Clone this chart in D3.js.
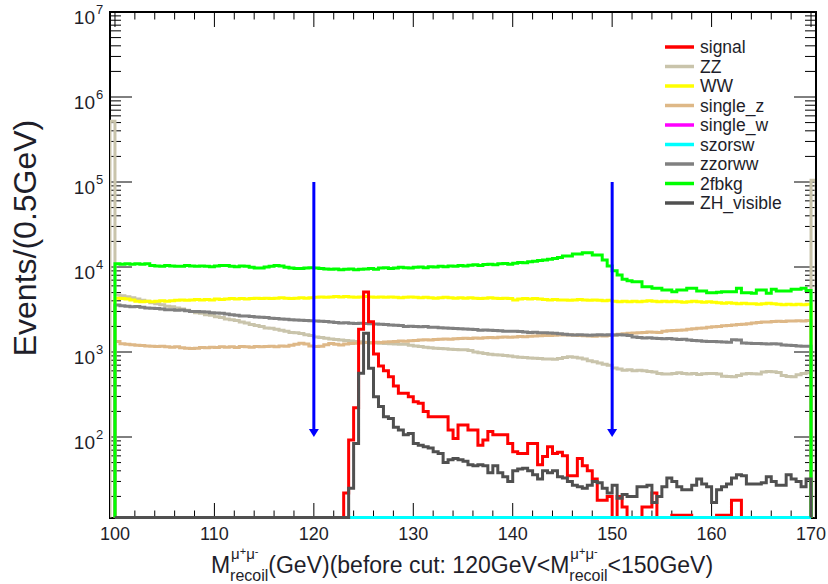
<!DOCTYPE html>
<html>
<head>
<meta charset="utf-8">
<script src="https://cdn.jsdelivr.net/npm/d3@7"></script>
<style>
  html, body { margin: 0; padding: 0; background: #fff; }
  svg { display: block; font-family: "Liberation Sans", Arial, Helvetica, sans-serif; }
</style>
</head>
<body>
<svg id="chart" width="828" height="584"></svg>
<script>
// ---- binning: 0.5 GeV bins from 100 to 170 GeV --------------------------
const binLow = 100, binHigh = 170, binWidth = 0.5;
const binEdges = d3.range(binLow, binHigh + binWidth / 2, binWidth);

// axis ticks
const xMajorTicks = [100, 110, 120, 130, 140, 150, 160, 170];
const yDecades = [1, 2, 3, 4, 5, 6, 7];

// cut window marked by the arrows
const cutLow = 120, cutHigh = 150;
const arrowTop = 1e5, arrowBottom = 1e2;

// ---- event counts per bin (140 bins each) --------------------------------
const signal = [
  0, 0, 0, 0, 0, 0, 0, 0, 0, 0,
  0, 0, 0, 0, 0, 0, 0, 0, 0, 0,
  0, 0, 0, 0, 0, 0, 0, 0, 0, 0,
  0, 0, 0, 0, 0, 0, 0, 0, 0, 0,
  0, 0, 0, 0, 0, 0, 22, 92, 221, 1850,
  5080, 2270, 946, 684, 600, 512, 398, 327, 327, 298,
  260, 249, 199, 173, 173, 173, 173, 121, 96, 138,
  138, 121, 121, 80, 92, 116, 106, 106, 106, 84,
  67, 64, 64, 84, 84, 47, 59, 77, 64, 66,
  60, 35, 35, 56, 46, 40, 32, 18, 18, 20,
  0, 20, 15, 0, 0, 0, 15, 15, 22, 0,
  0, 0, 12, 12, 12, 12, 0, 0, 0, 0,
  0, 12, 12, 12, 18, 18, 0, 0, 0, 0,
  0, 0, 0, 0, 0, 0, 0, 0, 0, 0
];

const zz = [
  4690, 4600, 4470, 4350, 4200, 4050, 3950, 3800, 3700, 3600,
  3450, 3400, 3300, 3200, 3100, 3000, 2900, 2850, 2750, 2700,
  2600, 2550, 2450, 2400, 2350, 2250, 2200, 2100, 2050, 2000,
  1920, 1900, 1850, 1800, 1750, 1700, 1680, 1650, 1600, 1560,
  1500, 1480, 1450, 1420, 1400, 1380, 1370, 1350, 1330, 1320,
  1300, 1290, 1280, 1270, 1260, 1250, 1240, 1230, 1230, 1200,
  1180, 1160, 1140, 1120, 1110, 1100, 1090, 1080, 1070, 1060,
  1060, 1040, 1000, 980, 960, 940, 930, 920, 910, 900,
  880, 870, 860, 850, 845, 840, 830, 830, 820, 840,
  860, 880, 870, 850, 830, 790, 770, 740, 720, 700,
  650, 630, 610, 620, 600, 610, 600, 590, 580, 560,
  550, 550, 560, 570, 560, 550, 560, 545, 555, 560,
  560, 550, 520, 515, 510, 530, 550, 560, 555, 550,
  580, 590, 585, 575, 530, 515, 510, 540, 560, 570
];
// ZZ also fills the half-bins just outside the 100-170 GeV window
const zzBelowWindow = 520000;  // 99.5-100 GeV
const zzAboveWindow = 105000;  // 170-170.5 GeV

const ww = [
  4300, 4250, 4200, 4100, 3950, 3900, 3950, 3900, 3950, 4000,
  3950, 4000, 4050, 4100, 4050, 4100, 4150, 4100, 4150, 4100,
  4200, 4150, 4200, 4250, 4200, 4250, 4200, 4250, 4300, 4250,
  4300, 4250, 4300, 4350, 4300, 4250, 4300, 4350, 4300, 4350,
  4400, 4450, 4400, 4450, 4500, 4450, 4500, 4450, 4400, 4450,
  4500, 4450, 4400, 4450, 4400, 4450, 4400, 4350, 4400, 4450,
  4400, 4350, 4400, 4350, 4300, 4350, 4400, 4350, 4300, 4350,
  4300, 4350, 4300, 4250, 4300, 4350, 4300, 4250, 4300, 4250,
  4100, 4200, 4250, 4200, 4250, 4200, 4150, 4100, 4150, 4100,
  4100, 4050, 4100, 4150, 4100, 4050, 4100, 4050, 4000, 4050,
  3950, 3900, 3950, 3900, 3950, 3900, 3950, 4000, 3950, 3900,
  3950, 3900, 3950, 3900, 3850, 3900, 3950, 3900, 3850, 3900,
  3850, 3800, 3750, 3800, 3750, 3700, 3750, 3700, 3700, 3650,
  3700, 3750, 3700, 3650, 3600, 3650, 3600, 3650, 3600, 3650
];

const singleZ = [
  1330, 1250, 1230, 1220, 1200, 1190, 1180, 1170, 1160, 1170,
  1150, 1140, 1150, 1120, 1110, 1100, 1110, 1130, 1120, 1140,
  1130, 1150, 1140, 1150, 1130, 1160, 1150, 1140, 1160, 1150,
  1160, 1170, 1150, 1180, 1170, 1200, 1230, 1270, 1240, 1180,
  1160, 1170, 1220, 1260, 1230, 1210, 1240, 1260, 1270, 1280,
  1290, 1280, 1300, 1290, 1310, 1320, 1330, 1350, 1340, 1360,
  1370, 1380, 1390, 1380, 1400, 1410, 1420, 1410, 1430, 1440,
  1450, 1440, 1460, 1450, 1470, 1480, 1470, 1490, 1500, 1490,
  1500, 1520, 1510, 1530, 1540, 1550, 1560, 1560, 1570, 1580,
  1590, 1580, 1570, 1560, 1550, 1540, 1530, 1550, 1540, 1560,
  1580, 1620, 1640, 1660, 1670, 1680, 1700, 1720, 1710, 1700,
  1750, 1780, 1790, 1800, 1820, 1850, 1880, 1900, 1920, 1950,
  1980, 2000, 2030, 2050, 2080, 2100, 2120, 2150, 2200, 2230,
  2250, 2260, 2280, 2300, 2290, 2310, 2320, 2330, 2320, 2340
];

const singleW = [
  0, 0, 0, 0, 0, 0, 0, 0, 0, 0,  0, 0, 0, 0, 0, 0, 0, 0, 0, 0,
  0, 0, 0, 0, 0, 0, 0, 0, 0, 0,  0, 0, 0, 0, 0, 0, 0, 0, 0, 0,
  0, 0, 0, 0, 0, 0, 0, 0, 0, 0,  0, 0, 0, 0, 0, 0, 0, 0, 0, 0,
  0, 0, 0, 0, 0, 0, 0, 0, 0, 0,  0, 0, 0, 0, 0, 0, 0, 0, 0, 0,
  0, 0, 0, 0, 0, 0, 0, 0, 0, 0,  0, 0, 0, 0, 0, 0, 0, 0, 0, 0,
  0, 0, 0, 0, 0, 0, 0, 0, 0, 0,  0, 0, 0, 0, 0, 0, 0, 0, 0, 0,
  0, 0, 0, 0, 0, 0, 0, 0, 0, 0,  0, 0, 0, 0, 0, 0, 0, 0, 0, 0
];

const szOrSw = [
  0, 0, 0, 0, 0, 0, 0, 0, 0, 0,  0, 0, 0, 0, 0, 0, 0, 0, 0, 0,
  0, 0, 0, 0, 0, 0, 0, 0, 0, 0,  0, 0, 0, 0, 0, 0, 0, 0, 0, 0,
  0, 0, 0, 0, 0, 0, 0, 0, 0, 0,  0, 0, 0, 0, 0, 0, 0, 0, 0, 0,
  0, 0, 0, 0, 0, 0, 0, 0, 0, 0,  0, 0, 0, 0, 0, 0, 0, 0, 0, 0,
  0, 0, 0, 0, 0, 0, 0, 0, 0, 0,  0, 0, 0, 0, 0, 0, 0, 0, 0, 0,
  0, 0, 0, 0, 0, 0, 0, 0, 0, 0,  0, 0, 0, 0, 0, 0, 0, 0, 0, 0,
  0, 0, 0, 0, 0, 0, 0, 0, 0, 0,  0, 0, 0, 0, 0, 0, 0, 0, 0, 0
];

const zzOrWw = [
  3570, 3500, 3450, 3400, 3420, 3350, 3300, 3280, 3250, 3200,
  3150, 3150, 3100, 3120, 3050, 3000, 3000, 2980, 2950, 2900,
  2880, 2850, 2800, 2750, 2700, 2660, 2650, 2620, 2580, 2560,
  2540, 2500, 2480, 2450, 2430, 2400, 2380, 2360, 2340, 2330,
  2320, 2300, 2280, 2250, 2220, 2200, 2210, 2180, 2170, 2180,
  2160, 2150, 2140, 2120, 2100, 2080, 2060, 2050, 2000, 2010,
  2000, 1980, 1990, 1960, 1950, 1930, 1920, 1900, 1890, 1880,
  1860, 1850, 1840, 1800, 1820, 1800, 1790, 1780, 1760, 1750,
  1760, 1740, 1720, 1700, 1710, 1690, 1680, 1670, 1660, 1640,
  1620, 1600, 1590, 1600, 1580, 1570, 1580, 1600, 1590, 1600,
  1590, 1600, 1580, 1560, 1500, 1480, 1460, 1470, 1450, 1440,
  1430, 1440, 1420, 1400, 1410, 1380, 1370, 1360, 1340, 1330,
  1330, 1320, 1310, 1300, 1390, 1380, 1280, 1270, 1260, 1260,
  1250, 1240, 1250, 1240, 1210, 1200, 1190, 1180, 1170, 1170
];

const twoFermion = [
  10900, 10800, 10900, 10800, 10900, 10800, 10900, 10400, 10300, 10200,
  10400, 10300, 10200, 10200, 10400, 10300, 10200, 10300, 10200, 10100,
  10300, 10400, 10400, 10200, 10100, 10300, 10200, 9900, 9700, 9700,
  10000, 10200, 10400, 10300, 9900, 9700, 9600, 9600, 9700, 9800,
  9700, 9600, 9500, 9400, 9500, 9300, 9400, 9500, 9300, 9400,
  9500, 9600, 9400, 9700, 9800, 9600, 9700, 9900, 9800, 9700,
  9900, 10000, 9800, 10100, 10000, 10200, 10100, 10300, 10200, 10400,
  10300, 10500, 10600, 10400, 10700, 10800, 10600, 10900, 11000, 10800,
  11100, 11300, 11200, 11500, 11700, 11900, 12100, 12300, 12600, 12900,
  13460, 13460, 14220, 14220, 14720, 14720, 13840, 13840, 12080, 10280,
  9040, 8050, 7160, 6900, 6710, 6710, 5860, 5860, 5610, 5610,
  5360, 5360, 5120, 5360, 5360, 5610, 5610, 5220, 5220, 4990,
  4990, 5050, 5120, 5120, 5120, 5610, 4990, 4990, 4910, 5360,
  5360, 4910, 5470, 5220, 5220, 5220, 5470, 5470, 5610, 5300
];

const zhVisible = [
  0, 0, 0, 0, 0, 0, 0, 0, 0, 0,
  0, 0, 0, 0, 0, 0, 0, 0, 0, 0,
  0, 0, 0, 0, 0, 0, 0, 0, 0, 0,
  0, 0, 0, 0, 0, 0, 0, 0, 0, 0,
  0, 0, 0, 0, 0, 0, 0, 25, 84, 561,
  1660, 643, 298, 228, 173, 165, 130, 121, 106, 110,
  84, 80, 77, 74, 67, 64, 50, 54, 56, 54,
  52, 47, 46, 47, 46, 38, 46, 38, 34, 30,
  40, 42, 43, 40, 36, 32, 40, 38, 40, 34,
  33, 30, 27, 26, 25, 27, 30, 29, 25, 22,
  27, 19, 21, 20, 20, 26, 26, 27, 17, 20,
  26, 33, 30, 26, 24, 24, 27, 32, 28, 26,
  17, 24, 26, 28, 33, 36, 35, 28, 28, 28,
  29, 34, 30, 27, 27, 36, 32, 30, 26, 32
];

// ---- series styling (legend order) ---------------------------------------
const seriesNames  = ["signal", "ZZ", "WW", "single_z", "single_w", "szorsw", "zzorww", "2fbkg", "ZH_visible"];
const seriesColors = ["#ff0000", "#c9c4ab", "#ffff00", "#deb887", "#ff00ff", "#00ffff", "#808080", "#00ff00", "#505050"];

// ---- geometry --------------------------------------------------------------
const frame = { left: 110, right: 816, top: 12, bottom: 518 };
const yMin = Math.pow(10, 7 - (frame.bottom - frame.top) / 85);
const zeroLevel = frame.bottom - 0.5;   // empty bins sit on the bottom edge

const x = d3.scaleLinear().domain([binLow - binWidth, binHigh + binWidth]).range([frame.left, frame.right]);
const y = d3.scaleLog().domain([yMin, 1e7]).range([frame.bottom, frame.top]);
const yPix = v => (v <= yMin ? zeroLevel : y(v));

const svg = d3.select("#chart");

svg.append("defs").append("clipPath").attr("id", "plotClip")
  .append("rect")
  .attr("x", frame.left).attr("y", frame.top - 2)
  .attr("width", frame.right - frame.left - 1)
  .attr("height", frame.bottom - frame.top + 4);

// ---- frame and ticks -------------------------------------------------------
const axes = svg.append("g").attr("stroke", "#000").attr("stroke-width", 1);

const xMinorTicks = d3.range(binLow, binHigh + 0.1, 2).filter(v => !xMajorTicks.includes(v));
const xTickLen = { major: 15, minor: 7.5 };
[[xMajorTicks, xTickLen.major], [xMinorTicks, xTickLen.minor]].forEach(([vals, len]) => {
  vals.forEach(v => {
    axes.append("line").attr("x1", x(v)).attr("x2", x(v)).attr("y1", frame.bottom).attr("y2", frame.bottom - len);
    axes.append("line").attr("x1", x(v)).attr("x2", x(v)).attr("y1", frame.top).attr("y2", frame.top + len);
  });
});

const yMajorTicks = yDecades.map(e => Math.pow(10, e)).filter(v => v >= yMin);
const yMinorTicks = [];
yDecades.slice(0, -1).forEach(e => {
  for (let k = 2; k <= 9; k++) {
    const v = k * Math.pow(10, e);
    if (v >= yMin && v <= 1e7) yMinorTicks.push(v);
  }
});
const yTickLen = { major: 22, minor: 11 };
[[yMajorTicks, yTickLen.major], [yMinorTicks, yTickLen.minor]].forEach(([vals, len]) => {
  vals.forEach(v => {
    axes.append("line").attr("x1", frame.left).attr("x2", frame.left + len).attr("y1", y(v)).attr("y2", y(v));
    axes.append("line").attr("x1", frame.right).attr("x2", frame.right - len).attr("y1", y(v)).attr("y2", y(v));
  });
});

svg.append("rect")
  .attr("x", frame.left).attr("y", frame.top)
  .attr("width", frame.right - frame.left).attr("height", frame.bottom - frame.top)
  .attr("fill", "none").attr("stroke", "#000").attr("stroke-width", 2);

// ---- tick labels -----------------------------------------------------------
const labelColor = "#1e1e2a";
svg.append("g").selectAll("text").data(xMajorTicks).join("text")
  .attr("x", d => x(d)).attr("y", 540)
  .attr("text-anchor", "middle").attr("fill", labelColor)
  .style("font-size", "18px")
  .text(d => d);

const yLabels = svg.append("g").attr("fill", labelColor);
yMajorTicks.forEach(v => {
  const e = Math.round(Math.log10(v));
  yLabels.append("text").attr("x", 95).attr("y", y(v) + 12)
    .attr("text-anchor", "end").style("font-size", "19px").text("10");
  yLabels.append("text").attr("x", 96).attr("y", y(v) + 2)
    .attr("text-anchor", "start").style("font-size", "13px").text(e);
});

// ---- histograms --------------------------------------------------------------
function stepPoints(firstEdge, values) {
  const pts = [[x(firstEdge), zeroLevel]];
  values.forEach((v, i) => {
    const x0 = x(firstEdge + i * binWidth), x1 = x(firstEdge + (i + 1) * binWidth);
    pts.push([x0, yPix(v)], [x1, yPix(v)]);
  });
  pts.push([x(firstEdge + values.length * binWidth), zeroLevel]);
  return pts;
}
const line = d3.line();

const seriesData = {
  "signal":     { first: binEdges[0], values: signal },
  "ZZ":         { first: binEdges[0] - binWidth, values: [zzBelowWindow, ...zz, zzAboveWindow] },
  "WW":         { first: binEdges[0], values: ww },
  "single_z":   { first: binEdges[0], values: singleZ },
  "single_w":   { first: binEdges[0], values: singleW },
  "szorsw":     { first: binEdges[0], values: szOrSw },
  "zzorww":     { first: binEdges[0], values: zzOrWw },
  "2fbkg":      { first: binEdges[0], values: twoFermion },
  "ZH_visible": { first: binEdges[0], values: zhVisible }
};

const drawOrder = ["single_w", "ZZ", "WW", "single_z", "zzorww", "2fbkg", "signal", "szorsw", "ZH_visible"];
const hist = svg.append("g").attr("clip-path", "url(#plotClip)");
drawOrder.forEach(name => {
  const s = seriesData[name];
  hist.append("path")
    .attr("d", line(stepPoints(s.first, s.values)))
    .attr("fill", "none")
    .attr("stroke", seriesColors[seriesNames.indexOf(name)])
    .attr("stroke-width", 3)
    .attr("stroke-linejoin", "miter");
});

// ---- cut arrows ------------------------------------------------------------------
[cutLow, cutHigh].forEach(c => {
  const ax = x(c), yTop = y(arrowTop), yTip = y(arrowBottom);
  svg.append("line").attr("x1", ax).attr("x2", ax).attr("y1", yTop).attr("y2", yTip - 6)
    .attr("stroke", "#0000ff").attr("stroke-width", 3);
  svg.append("path")
    .attr("d", `M${ax - 5},${yTip - 8} L${ax + 5},${yTip - 8} L${ax},${yTip} Z`)
    .attr("fill", "#0000ff");
});

// ---- legend -----------------------------------------------------------------------
const legend = svg.append("g");
seriesNames.forEach((name, i) => {
  const ly = 47 + i * 19.5;
  legend.append("line").attr("x1", 665).attr("x2", 694).attr("y1", ly).attr("y2", ly)
    .attr("stroke", seriesColors[i]).attr("stroke-width", 3.5);
  legend.append("text").attr("x", 700).attr("y", ly + 6)
    .attr("fill", labelColor).style("font-size", "17.5px").text(name);
});

// ---- axis titles -------------------------------------------------------------------
svg.append("text")
  .attr("transform", "translate(36,238) rotate(-90)")
  .attr("text-anchor", "middle").attr("fill", labelColor)
  .style("font-size", "32px")
  .text("Events/(0.5GeV)");

// x title: M with mu+mu- superscript and "recoil" subscript, written twice
function drawXTitle(cx, baseline) {
  const g = svg.append("g").attr("fill", labelColor);
  const mainSize = 23, supSize = 15, subSize = 16;
  const parts = [
    { text: "M" }, { recoil: true },
    { text: "(GeV)(before cut: 120GeV<M" }, { recoil: true },
    { text: "<150GeV)" }
  ];
  let xp = 0;
  parts.forEach(p => {
    if (p.text) {
      const t = g.append("text").attr("x", xp).attr("y", baseline).style("font-size", mainSize + "px").text(p.text);
      xp += t.node().getComputedTextLength();
    } else {
      const sup = g.append("text").attr("x", xp + 1).attr("y", baseline - 14).style("font-size", supSize + "px");
      sup.append("tspan").text("\u03bc");
      sup.append("tspan").attr("dy", -4).style("font-size", "11px").text("+");
      sup.append("tspan").attr("dy", 4).text("\u03bc");
      sup.append("tspan").attr("dy", -4).style("font-size", "11px").text("-");
      const sub = g.append("text").attr("x", xp).attr("y", baseline + 8).style("font-size", subSize + "px").text("recoil");
      xp += Math.max(sup.node().getComputedTextLength() + 1, sub.node().getComputedTextLength());
    }
  });
  g.attr("transform", `translate(${cx - xp / 2},0)`);
}
drawXTitle(462, 573);
</script>
</body>
</html>
